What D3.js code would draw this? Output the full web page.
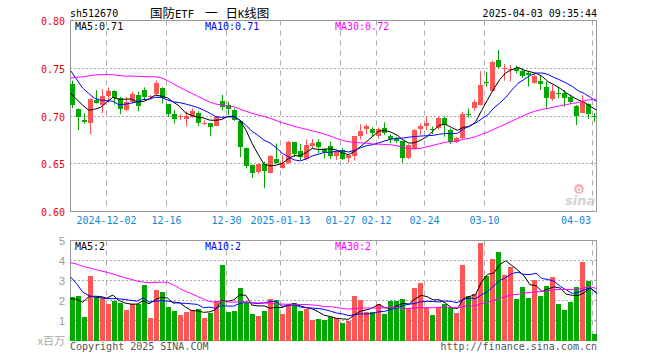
<!DOCTYPE html>
<html lang="zh">
<head>
<meta charset="utf-8">
<title>国防ETF 日K线图</title>
<script src="https://d3js.org/d3.v7.min.js"></script>
<style>
  body { margin: 0; background: #fff; }
  svg text { font-family: "DejaVu Sans Mono", monospace; font-size: 10px; }
</style>
</head>
<body>
<script>
// trading days shown, 2024-11-22 .. 2025-04-03
var dates = [
  "2024-11-22","2024-11-25","2024-11-26","2024-11-27","2024-11-28","2024-11-29",
  "2024-12-02","2024-12-03","2024-12-04","2024-12-05","2024-12-06",
  "2024-12-09","2024-12-10","2024-12-11","2024-12-12","2024-12-13",
  "2024-12-16","2024-12-17","2024-12-18","2024-12-19","2024-12-20",
  "2024-12-23","2024-12-24","2024-12-25","2024-12-26","2024-12-27",
  "2024-12-30","2024-12-31","2025-01-02","2025-01-03",
  "2025-01-06","2025-01-07","2025-01-08","2025-01-09","2025-01-10",
  "2025-01-13","2025-01-14","2025-01-15","2025-01-16","2025-01-17",
  "2025-01-20","2025-01-21","2025-01-22","2025-01-23","2025-01-24",
  "2025-01-27","2025-02-05","2025-02-06","2025-02-07",
  "2025-02-10","2025-02-11","2025-02-12","2025-02-13","2025-02-14",
  "2025-02-17","2025-02-18","2025-02-19","2025-02-20","2025-02-21",
  "2025-02-24","2025-02-25","2025-02-26","2025-02-27","2025-02-28",
  "2025-03-03","2025-03-04","2025-03-05","2025-03-06","2025-03-07",
  "2025-03-10","2025-03-11","2025-03-12","2025-03-13","2025-03-14",
  "2025-03-17","2025-03-18","2025-03-19","2025-03-20","2025-03-21",
  "2025-03-24","2025-03-25","2025-03-26","2025-03-27","2025-03-28",
  "2025-03-31","2025-04-01","2025-04-02","2025-04-03"
];

var open = [0.734,0.707,0.696,0.693,0.7168,0.712,0.721,0.726,0.7185,0.7063,
  0.7147,0.7217,0.7272,0.7195,0.723,0.7296,0.7126,0.702,0.699,0.697,
  0.6993,0.7035,0.6925,0.6924,0.690,0.7157,0.7115,0.7063,0.6947,0.6668,
  0.649,0.6417,0.6497,0.6406,0.655,0.6459,0.651,0.6727,0.6634,0.6547,
  0.6686,0.6727,0.6658,0.6686,0.6584,0.6644,0.656,0.6584,0.679,0.6863,
  0.6863,0.679,0.6871,0.679,0.6773,0.6738,0.6563,0.6658,0.6867,0.690,
  0.6862,0.6871,0.6982,0.6853,0.673,0.6767,0.7022,0.708,0.7115,0.7352,
  0.7265,0.7586,0.7495,0.7488,0.7506,0.7471,0.7447,0.7349,0.737,0.7307,
  0.7175,0.7246,0.7244,0.7202,0.7105,0.7035,0.7126,0.7002];
var high = [0.737,0.708,0.703,0.718,0.727,0.728,0.730,0.727,0.720,0.720,
  0.7255,0.7255,0.730,0.722,0.737,0.730,0.7126,0.706,0.702,0.705,
  0.708,0.705,0.6955,0.6924,0.700,0.722,0.715,0.708,0.6958,0.6668,
  0.649,0.650,0.652,0.659,0.6714,0.659,0.674,0.6727,0.6707,0.6756,
  0.676,0.6756,0.6658,0.673,0.6634,0.6668,0.6592,0.679,0.6913,0.6913,
  0.6882,0.688,0.6934,0.681,0.678,0.6738,0.6705,0.6862,0.6924,0.700,
  0.6888,0.700,0.6995,0.687,0.678,0.7045,0.708,0.7167,0.747,0.7464,
  0.758,0.7691,0.7545,0.7534,0.7527,0.750,0.7464,0.7447,0.743,0.736,
  0.7325,0.7307,0.7272,0.722,0.7115,0.722,0.7133,0.703];
var low = [0.708,0.685,0.692,0.681,0.713,0.703,0.714,0.712,0.702,0.705,
  0.713,0.705,0.717,0.717,0.722,0.713,0.699,0.692,0.696,0.689,
  0.698,0.689,0.6905,0.679,0.689,0.706,0.701,0.695,0.657,0.645,
  0.635,0.6395,0.6243,0.640,0.650,0.645,0.650,0.657,0.654,0.6532,
  0.666,0.661,0.6557,0.655,0.654,0.654,0.651,0.6532,0.6756,0.681,
  0.6783,0.6767,0.680,0.6714,0.6714,0.651,0.655,0.665,0.680,0.6853,
  0.681,0.686,0.6783,0.6704,0.672,0.676,0.6986,0.7055,0.711,0.7307,
  0.726,0.750,0.737,0.736,0.7447,0.7395,0.7307,0.734,0.7272,0.7073,
  0.716,0.7185,0.7097,0.7133,0.6906,0.703,0.6969,0.694];
var close = [0.711,0.699,0.694,0.7175,0.714,0.721,0.7265,0.7185,0.707,0.7147,
  0.723,0.7108,0.7196,0.7206,0.735,0.7185,0.702,0.697,0.6995,0.700,
  0.705,0.6924,0.693,0.6882,0.6986,0.7097,0.7073,0.6958,0.6672,0.6476,
  0.6406,0.6497,0.6427,0.658,0.651,0.6505,0.673,0.660,0.6567,0.6693,
  0.6714,0.6672,0.662,0.6584,0.6634,0.655,0.6592,0.679,0.6843,0.6895,
  0.6819,0.6863,0.6825,0.6756,0.6738,0.6563,0.6696,0.6853,0.6895,0.6924,
  0.686,0.6982,0.6906,0.673,0.6773,0.702,0.702,0.715,0.7325,0.735,
  0.7569,0.7516,0.750,0.749,0.7474,0.7422,0.743,0.7419,0.7335,0.7185,
  0.7262,0.7244,0.7185,0.7143,0.700,0.715,0.702,0.700];
// volume, millions
var volume = [2.2,2.25,1.2,3.25,2.17,2.12,1.85,1.97,1.9,1.55,
  1.83,1.85,2.8,1.15,2.55,2.45,1.7,1.5,1.3,1.45,
  1.55,1.6,1.15,1.4,2.0,3.8,1.45,1.5,2.65,1.9,
  1.35,1.25,1.5,2.1,2.05,1.35,1.85,1.9,1.5,1.6,
  1.05,1.1,1.05,1.2,1.15,0.9,1.0,2.25,2.05,1.45,
  1.45,1.85,1.35,2.0,2.0,2.1,1.65,2.65,2.9,1.65,
  1.3,1.7,1.85,1.7,1.4,3.8,2.25,2.35,4.9,3.25,
  4.1,4.4,3.3,3.7,2.1,2.7,2.15,3.05,2.25,2.75,
  3.2,1.85,1.55,1.95,2.7,3.95,3.0,0.35];

// sessions before the window, only needed so the MA lines start at the left edge
var priorCloses = [0.675,0.68,0.685,0.69,0.71,0.72,0.725,0.73,0.735,
  0.72,0.72,0.725,0.73,0.735,0.745,0.79,0.80,0.805,0.80,0.795,
  0.79,0.785,0.775,0.765,0.741,0.7315,0.724,0.745,0.7085];
var priorVolumes = [4.2,4.8,5.2,4.6,4.4,4.0,4.5,4.9,4.3,4.1,4.4,4.4,
  2.2,1.8,2.3,1.7,5.5,6.4,6.0,5.2,5.6,5.4,5.0,3.0,2.4,2.3,2.0,1.9,2.0];

var tickDates = ["2024-12-02","2024-12-16","2024-12-30","2025-01-13","2025-01-27",
  "2025-02-12","2025-02-24","2025-03-10","2025-04-03"];
var tickLabels = ["2024-12-02","12-16","12-30","2025-01-13","01-27",
  "02-12","02-24","03-10","04-03"];
var priceTicks = [0.60, 0.65, 0.70, 0.75, 0.80];
var volTicks = [1, 2, 3, 4, 5];

var width = 660, height = 360;
var left = 70, right = 597;
var red = "#ff5555", green = "#00a800";

var svg = d3.select("body").append("svg")
    .attr("width", width)
    .attr("height", height);

var x = d3.scaleBand().domain(dates).range([left, right]).paddingInner(1/6).paddingOuter(0);
var xl = d3.scalePoint().domain(dates).range([left + 0.5, right - 0.5]);
var y = d3.scaleLinear().domain([0.6, 0.8]).range([211.5, 20.5]);
var yv = d3.scaleLinear().domain([0, 5]).range([340.5, 240.5]);

function movingAvg(prior, values, n) {
  var all = prior.concat(values), off = prior.length;
  return values.map(function(v, i) {
    return d3.mean(all.slice(off + i - n + 1, off + i + 1));
  });
}

var bars = dates.map(function(d, i) {
  return {date: d, o: open[i], h: high[i], l: low[i], c: close[i], v: volume[i],
          up: close[i] >= open[i]};
});

// grid + frame for one panel
function panel(scale, hTicks, y0, y1) {
  var g = svg.append("g");
  g.selectAll("line.h").data(hTicks).enter().append("line")
      .attr("x1", left).attr("x2", right)
      .attr("y1", function(d) { return Math.floor(scale(d)) + 0.5; })
      .attr("y2", function(d) { return Math.floor(scale(d)) + 0.5; })
      .attr("stroke", "#aaa").attr("stroke-dasharray", "2,2");
  g.selectAll("line.v").data(tickDates).enter().append("line")
      .attr("x1", function(d) { return x(d) + 0.5; })
      .attr("x2", function(d) { return x(d) + 0.5; })
      .attr("y1", y0).attr("y2", y1)
      .attr("stroke", "#aaa").attr("stroke-dasharray", "5,5");
  g.append("rect")
      .attr("x", left + 0.5).attr("y", y0)
      .attr("width", right - left - 1).attr("height", y1 - y0)
      .attr("fill", "none").attr("stroke", "#999");
  return g;
}

panel(y, [0.65, 0.70, 0.75], 20.5, 211.5);
panel(yv, [1, 2, 3, 4], 240.5, 340.5);

// candles
var cg = svg.append("g");
cg.selectAll("line").data(bars).enter().append("line")
    .attr("x1", function(d) { return x(d.date) + 2.5; })
    .attr("x2", function(d) { return x(d.date) + 2.5; })
    .attr("y1", function(d) { return y(d.h); })
    .attr("y2", function(d) { return y(d.l); })
    .attr("stroke", function(d) { return d.up ? red : green; });
cg.selectAll("rect").data(bars).enter().append("rect")
    .attr("x", function(d) { return x(d.date); })
    .attr("width", x.bandwidth())
    .attr("y", function(d) { return Math.round(y(Math.max(d.o, d.c))); })
    .attr("height", function(d) {
      return Math.max(1, Math.round(y(Math.min(d.o, d.c))) - Math.round(y(Math.max(d.o, d.c))));
    })
    .attr("fill", function(d) { return d.up ? red : green; });

// volume bars
svg.append("g").selectAll("rect").data(bars).enter().append("rect")
    .attr("x", function(d) { return x(d.date); })
    .attr("width", x.bandwidth())
    .attr("y", function(d) { return Math.round(yv(d.v)); })
    .attr("height", function(d) { return Math.round(yv(0)) - Math.round(yv(d.v)); })
    .attr("fill", function(d) { return d.up ? red : green; });

// moving averages
var maDefs = [{n: 5, color: "#000"}, {n: 10, color: "#0000ff"}, {n: 30, color: "#ff00ff"}];
maDefs.forEach(function(m) {
  var pm = movingAvg(priorCloses, close, m.n);
  var vm = movingAvg(priorVolumes, volume, m.n);
  svg.append("path")
      .attr("d", d3.line().x(function(d, i) { return xl(dates[i]); }).y(function(d) { return y(d); })(pm))
      .attr("fill", "none").attr("stroke", m.color).attr("stroke-width", 1);
  svg.append("path")
      .attr("d", d3.line().x(function(d, i) { return xl(dates[i]); }).y(function(d) { return yv(d); })(vm))
      .attr("fill", "none").attr("stroke", m.color).attr("stroke-width", 1);
});

// axes labels
var ya = svg.append("g").attr("transform", "translate(" + left + ",0)")
    .call(d3.axisLeft(y).tickValues(priceTicks).tickSize(0).tickPadding(5).tickFormat(d3.format(".2f")));
ya.select(".domain").remove();
ya.selectAll("text").attr("fill", "#e00").attr("dy", "0.4em")
    .style("font-family", "'DejaVu Sans Mono', monospace").style("font-size", "10px");

var va = svg.append("g").attr("transform", "translate(" + left + ",0)")
    .call(d3.axisLeft(yv).tickValues(volTicks).tickSize(0).tickPadding(5).tickFormat(d3.format("d")));
va.select(".domain").remove();
va.selectAll("text").attr("fill", "#999").attr("dy", "0.35em")
    .style("font-family", "'Liberation Sans', sans-serif").style("font-size", "11px");

svg.append("g").selectAll("text").data(tickDates).enter().append("text")
    .attr("x", function(d, i) { return i == tickDates.length - 1 ? x(d) - 1 : x(d) + 0.5; })
    .attr("y", 224)
    .attr("text-anchor", function(d, i) { return i == tickDates.length - 1 ? "end" : "middle"; })
    .attr("fill", "#1187d8")
    .text(function(d, i) { return tickLabels[i]; });

// header
svg.append("text").attr("x", 70).attr("y", 16.5).attr("fill", "#000").text("sh512670");

var cjk = "'Noto Sans CJK SC', sans-serif";
var title = svg.append("text").attr("x", 150).attr("y", 17.5).attr("fill", "#000")
    .style("font-family", cjk).style("font-size", "12.5px");
var titleParts = [["国防", 0, true], ["ETF", 0, false], ["一", 11, true],
                  ["日", 8, true], ["K", 0, false], ["线图", 0, true]];
titleParts.forEach(function(p) {
  title.append("tspan").attr("dx", p[1])
      .style("font-family", p[2] ? cjk : "'DejaVu Sans Mono', monospace")
      .style("font-size", p[2] ? "12.5px" : "10.5px")
      .text(p[0]);
});

svg.append("text").attr("x", 597).attr("y", 16.5).attr("text-anchor", "end").attr("fill", "#000")
    .text("2025-04-03 09:35:44");

var maText = [["MA5:0.71", "#000", 75], ["MA10:0.71", "#0000ff", 205], ["MA30:0.72", "#ff00ff", 335]];
var maVolText = [["MA5:2", "#000", 75], ["MA10:2", "#0000ff", 205], ["MA30:2", "#ff00ff", 335]];
maText.forEach(function(t) {
  svg.append("text").attr("x", t[2]).attr("y", 29.5).attr("fill", t[1]).text(t[0]);
});
maVolText.forEach(function(t) {
  svg.append("text").attr("x", t[2]).attr("y", 250).attr("fill", t[1]).text(t[0]);
});

// footer
svg.append("text").attr("x", 65).attr("y", 345).attr("text-anchor", "end").attr("fill", "#aaa")
    .style("font-family", cjk).style("font-size", "11px").text("x百万");
svg.append("text").attr("x", 70).attr("y", 350).attr("fill", "#555").text("Copyright 2025 SINA.COM");
svg.append("text").attr("x", 597).attr("y", 350).attr("text-anchor", "end").attr("fill", "#555")
    .text("http://finance.sina.com.cn");

// sina watermark
var logo = svg.append("g").attr("opacity", 0.75);
logo.append("circle").attr("cx", 579).attr("cy", 189).attr("r", 5).attr("fill", "#f2a0a0");
logo.append("circle").attr("cx", 579).attr("cy", 189.5).attr("r", 2.5).attr("fill", "#fff");
logo.append("circle").attr("cx", 579).attr("cy", 189.5).attr("r", 1.2).attr("fill", "#999");
logo.append("text").attr("x", 565).attr("y", 204.5)
    .style("font-family", "'DejaVu Sans', sans-serif").style("font-size", "13px")
    .style("font-weight", "bold").style("font-style", "italic")
    .attr("fill", "#c4c4c4").text("sina");
</script>
</body>
</html>
